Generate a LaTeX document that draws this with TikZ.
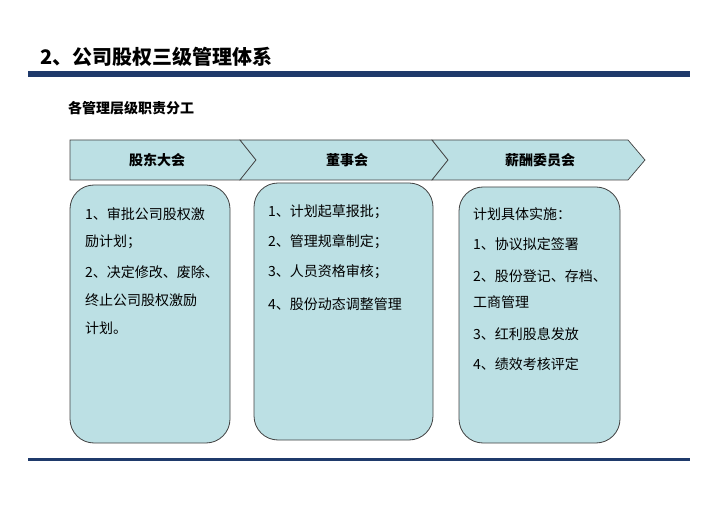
\documentclass[tikz,border=0pt]{standalone}
\usepackage{fontspec}
\setmainfont{Noto Sans CJK SC}
\definecolor{boxfill}{RGB}{188,224,228}
\definecolor{navy}{RGB}{31,58,107}
\begin{document}
\begin{tikzpicture}[x=1pt,y=-1pt,
  chev/.style={draw=black!75,fill=boxfill,line width=0.7pt},
  rbox/.style={draw=black!75,fill=boxfill,line width=0.8pt,rounded corners=24pt},
  lbl/.style={font=\fontsize{14}{16}\selectfont\bfseries},
  txt/.style={font=\fontsize{14}{16}\selectfont,anchor=west,inner sep=0pt}]
\useasboundingbox (0,0) rectangle (720,510);
\node[anchor=west,inner sep=0pt,font=\fontsize{20}{24}\selectfont\bfseries] (title) at (40,57) {2、公司股权三级管理体系};
\fill[navy] (28,71) rectangle (690,77);
\node[anchor=west,inner sep=0pt,font=\fontsize{14}{16}\selectfont\bfseries] (sub) at (68,108) {各管理层级职责分工};
\draw[chev] (70,140) -- (240,140) -- (256,160) -- (240,180) -- (70,180) -- cycle;
\draw[chev] (240,140) -- (432,140) -- (448,160) -- (432,180) -- (240,180) -- (256,160) -- cycle;
\draw[chev] (432,140) -- (628,140) -- (645,160) -- (628,180) -- (432,180) -- (448,160) -- cycle;
\node[lbl] (c1) at (157,160) {股东大会};
\node[lbl] (c2) at (347,160) {董事会};
\node[lbl] (c3) at (540,160) {薪酬委员会};
\draw[rbox] (70,185) rectangle (230,443);
\draw[rbox] (254,183) rectangle (433,440);
\draw[rbox] (459,187) rectangle (620,443);
\node[txt] (a1) at (85,214) {1、审批公司股权激};
\node[txt] (a2) at (85,242) {励计划；};
\node[txt] (a3) at (85,272) {2、决定修改、废除、};
\node[txt] (a4) at (85,300) {终止公司股权激励};
\node[txt] (a5) at (85,328) {计划。};
\node[txt] (b1) at (268,212) {1、计划起草报批；};
\node[txt] (b2) at (268,242) {2、管理规章制定；};
\node[txt] (b3) at (268,272) {3、人员资格审核；};
\node[txt] (b4) at (268,304) {4、股份动态调整管理};
\node[txt] (d1) at (473,214) {计划具体实施：};
\node[txt] (d2) at (473,244) {1、协议拟定签署};
\node[txt] (d3) at (473,276) {2、股份登记、存档、};
\node[txt] (d4) at (473,302) {工商管理};
\node[txt] (d5) at (473,334) {3、红利股息发放};
\node[txt] (d6) at (473,364) {4、绩效考核评定};
\fill[navy] (28,458) rectangle (690,461);
\end{tikzpicture}
\end{document}
